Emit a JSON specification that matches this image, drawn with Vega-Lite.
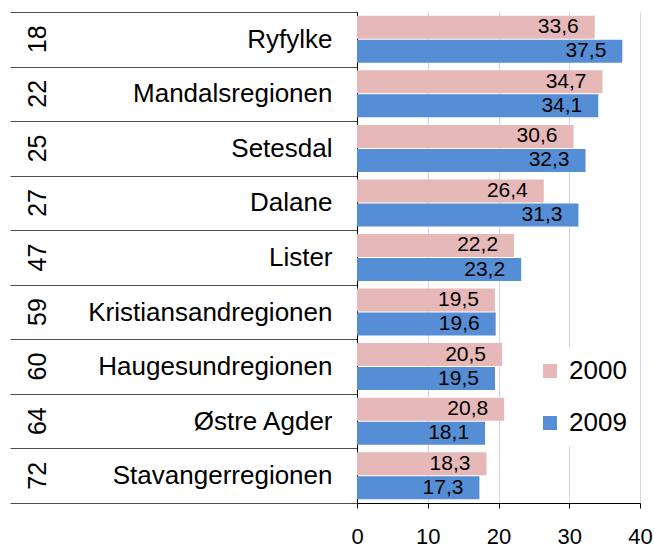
{
  "$schema": "https://vega.github.io/schema/vega-lite/v6.json",
  "width": 283,
  "height": 491,
  "autosize": {"type": "none"},
  "padding": {"left": 357, "top": 12, "right": 14, "bottom": 44},
  "background": "white",
  "config": {
    "font": "Liberation Sans",
    "view": {"stroke": null},
    "locale": {"number": {"decimal": ",", "thousands": " ", "grouping": [3], "currency": ["", " kr"]}}
  },
  "data": {
    "values": [
      {"region": "Ryfylke", "rank": 18, "year": "2000", "value": 33.6},
      {"region": "Ryfylke", "rank": 18, "year": "2009", "value": 37.5},
      {"region": "Mandalsregionen", "rank": 22, "year": "2000", "value": 34.7},
      {"region": "Mandalsregionen", "rank": 22, "year": "2009", "value": 34.1},
      {"region": "Setesdal", "rank": 25, "year": "2000", "value": 30.6},
      {"region": "Setesdal", "rank": 25, "year": "2009", "value": 32.3},
      {"region": "Dalane", "rank": 27, "year": "2000", "value": 26.4},
      {"region": "Dalane", "rank": 27, "year": "2009", "value": 31.3},
      {"region": "Lister", "rank": 47, "year": "2000", "value": 22.2},
      {"region": "Lister", "rank": 47, "year": "2009", "value": 23.2},
      {"region": "Kristiansandregionen", "rank": 59, "year": "2000", "value": 19.5},
      {"region": "Kristiansandregionen", "rank": 59, "year": "2009", "value": 19.6},
      {"region": "Haugesundregionen", "rank": 60, "year": "2000", "value": 20.5},
      {"region": "Haugesundregionen", "rank": 60, "year": "2009", "value": 19.5},
      {"region": "Østre Agder", "rank": 64, "year": "2000", "value": 20.8},
      {"region": "Østre Agder", "rank": 64, "year": "2009", "value": 18.1},
      {"region": "Stavangerregionen", "rank": 72, "year": "2000", "value": 18.3},
      {"region": "Stavangerregionen", "rank": 72, "year": "2009", "value": 17.3}
    ]
  },
  "transform": [{"calculate": "datum.rank + '|' + datum.region", "as": "key"}],
  "encoding": {
    "yOffset": {"field": "year", "type": "nominal", "scale": {"paddingInner": 0.042, "paddingOuter": 0.157}},
    "x": {
      "field": "value",
      "type": "quantitative",
      "title": null,
      "scale": {"domain": [0, 40], "nice": false},
      "axis": {
        "values": [0, 10, 20, 30, 40],
        "grid": true,
        "gridColor": "#D3D3F7",
        "domainColor": "black",
        "tickColor": "black",
        "tickSize": 5,
        "labelFontSize": 22,
        "labelPadding": 18,
        "labelColor": "black",
        "labelFlush": false,
        "labelOverlap": false
      }
    }
  },
  "layer": [
    {
      "mark": {"type": "bar"},
      "encoding": {
        "y": {
          "field": "key",
          "type": "nominal",
          "sort": "ascending",
          "title": null,
          "scale": {"paddingInner": 0, "paddingOuter": 0},
          "axis": {
            "orient": "left",
            "labelExpr": "split(datum.value, '|')[1]",
            "domain": true,
            "domainColor": "black",
            "ticks": true,
            "tickBand": "extent",
            "tickSize": 347,
            "tickColor": "#4D4D4D",
            "labelPadding": -322,
            "labelAlign": "right",
            "labelBaseline": "middle",
            "labelFontSize": 26,
            "labelColor": "black",
            "labelLimit": 500,
            "grid": false
          }
        },
        "color": {
          "field": "year",
          "type": "nominal",
          "scale": {"domain": ["2000", "2009"], "range": ["#E6B9B8", "#558ED5"]},
          "legend": {
            "orient": "none",
            "legendX": 170,
            "legendY": 336,
            "title": null,
            "symbolType": "square",
            "symbolSize": 196,
            "symbolStrokeWidth": 0,
            "labelFontSize": 26,
            "labelOffset": 6,
            "labelColor": "black",
            "rowPadding": 26,
            "padding": 10,
            "fillColor": "white"
          }
        }
      }
    },
    {
      "mark": {"type": "text", "align": "right", "baseline": "middle", "dx": -16, "fontSize": 21, "color": "black"},
      "encoding": {
        "y": {
          "field": "key",
          "type": "nominal",
          "sort": "ascending",
          "title": null,
          "axis": {
            "orient": "left",
            "labelExpr": "split(datum.value, '|')[0]",
            "domain": false,
            "ticks": false,
            "tickSize": 0,
            "labelAngle": -90,
            "labelAlign": "center",
            "labelBaseline": "middle",
            "labelPadding": 320,
            "labelFontSize": 25,
            "labelColor": "black",
            "grid": false
          }
        },
        "text": {"field": "value", "type": "quantitative", "format": ".1f"}
      }
    }
  ],
  "resolve": {"axis": {"y": "independent"}}
}
